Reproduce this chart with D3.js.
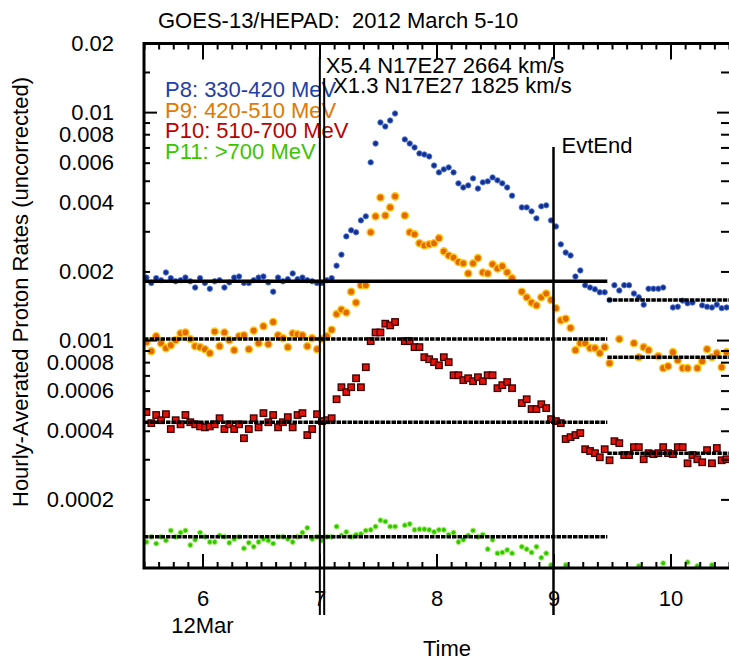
<!DOCTYPE html>
<html>
<head>
<meta charset="utf-8">
<script src="https://cdn.jsdelivr.net/npm/d3@7"></script>
<style>
  body { margin: 0; background: #fff; }
  svg { display: block; font-family: "Liberation Sans", Arial, sans-serif; }
</style>
</head>
<body>
<div id="chart"></div>
<script>
// hourly averages, first value is 2012-03-05 12:00-13:00 UT (null = no point)
const startDay = 5.5

const p8 = [
  0.00188, 0.00178, 0.00187, 0.00183, 0.00198, 0.00187, 0.00181, 0.00183, 0.00188, 0.00181, 0.00170, 0.00187,
  0.00178, 0.00168, 0.00181, 0.00183, 0.00170, 0.00179, 0.00188, 0.00190, 0.00178, 0.00178, 0.00183, 0.00188,
  0.00190, 0.00179, 0.00163, 0.00188, 0.00181, 0.00185, 0.00196, 0.00185, 0.00188, 0.00183, 0.00181, 0.00178,
  0.00178, 0.00183, 0.00187, 0.00212, 0.00237, 0.00285, 0.00303, 0.00297, 0.00335, 0.00349, 0.00602, 0.00728,
  0.00901, 0.00865, 0.00919, 0.00986, null, 0.00759, 0.00728, 0.00700, 0.00659, 0.00652, 0.00639, 0.00583,
  0.00544, 0.00561, 0.00572, 0.00544, 0.00487, 0.00467, 0.00477, 0.00512, 0.00462, 0.00492, 0.00497, 0.00517,
  0.00502, 0.00487, 0.00467, 0.00430, null, 0.00382, 0.00382, 0.00367, 0.00342, 0.00386, 0.00390, 0.00335,
  0.00315, 0.00263, 0.00242, 0.00235, 0.00190, 0.00202, 0.00174, 0.00170, 0.00167, 0.00162, 0.00162, 0.00150,
  0.00174, 0.00165, 0.00174, 0.00174, 0.00160, 0.00154, 0.00143, 0.00168, 0.00168, 0.00168, 0.00170, null,
  0.00139, 0.00140, 0.00149, 0.00145, 0.00146, null, 0.00142, 0.00140, 0.00139, 0.00143, 0.00138, 0.00139
]

const p9 = [
  0.000979, 0.000894, 0.00104, 0.000969, 0.000922, 0.000949, 0.000999, 0.00107, 0.00108, 0.00101, 0.000940, 0.000931,
  0.000912, 0.000876, 0.00109, 0.000940, 0.00108, 0.000999, 0.000903, 0.00104, 0.00105, 0.000912, 0.00110, 0.000969,
  0.00115, 0.000959, 0.00120, 0.00105, 0.00102, 0.000931, 0.00107, 0.00106, 0.00105, 0.000940, 0.00102, 0.000912,
  0.00101, 0.00104, 0.00111, 0.00130, 0.00136, 0.00132, 0.00163, 0.00146, 0.00174, 0.00174, 0.00297, 0.00349,
  0.00422, 0.00352, 0.00382, 0.00427, null, 0.00352, 0.00297, 0.00291, 0.00266, 0.00260, 0.00263, 0.00266,
  0.00280, 0.00245, 0.00235, 0.00230, 0.00220, 0.00217, 0.00196, 0.00217, 0.00229, 0.00198, 0.00196, 0.00215,
  0.00206, 0.00211, 0.00198, 0.00187, null, 0.00163, 0.00154, 0.00146, 0.00142, 0.00154, 0.00160, 0.00150,
  0.00138, 0.00122, 0.00124, 0.00113, 0.000903, 0.000969, 0.000969, 0.000922, 0.000922, 0.000876, 0.000931, 0.000792,
  null, 0.00101, null, null, 0.000969, 0.000841, 0.000931, 0.000903, null, 0.000850, 0.000753, 0.000768,
  0.000885, 0.000816, 0.000753, 0.000753, null, 0.000753, 0.000808, 0.000912, 0.000841, 0.000876, 0.000760, 0.000885
]

const p10 = [
  0.000483, 0.000432, 0.000469, 0.000445, 0.000473, 0.000407, 0.000445, 0.000427, 0.000469, 0.000436, 0.000427, 0.000418,
  0.000414, 0.000418, 0.000427, 0.000454, 0.000407, 0.000427, 0.000407, 0.000427, 0.000371, 0.000407, 0.000454, 0.000414,
  0.000478, 0.000436, 0.000469, 0.000414, 0.000436, 0.000459, 0.000414, 0.000469, 0.000478, 0.000383, 0.000407, 0.000473,
  0.000441, 0.000445, 0.000454, 0.000550, 0.000621, 0.000591, 0.000621, 0.000680, 0.000621, 0.000760, 0.000989, 0.00108,
  0.00108, 0.00118, 0.00116, 0.00120, null, 0.000989, 0.000989, 0.000931, 0.000931, 0.000841, 0.000824, 0.000800,
  0.000775, 0.000841, 0.000800, 0.000701, 0.000701, 0.000667, 0.000680, 0.000660, 0.000687, 0.000660, 0.000701, 0.000701,
  0.000615, 0.000634, 0.000654, 0.000615, null, 0.000529, 0.000550, 0.000498, 0.000498, 0.000523, 0.000503, 0.000450,
  0.000441, 0.000432, 0.000368, 0.000375, 0.000383, 0.000391, 0.000332, 0.000326, 0.000319, 0.000306, 0.000332, 0.000297,
  0.000360, 0.000353, 0.000313, 0.000313, 0.000339, 0.000339, 0.000300, 0.000319, 0.000316, 0.000319, 0.000339, 0.000319,
  0.000316, 0.000339, 0.000339, 0.000288, 0.000313, 0.000300, 0.000291, 0.000329, 0.000288, 0.000336, 0.000297, 0.000300
]

const p11 = [
  0.000130, 0.000137, 0.000128, 0.000137, 0.000132, 0.000146, 0.000137, 0.000143, 0.000146, 0.000126, 0.000133, 0.000143,
  0.000137, 0.000130, 0.000130, 0.000139, 0.000137, 0.000129, 0.000134, 0.000137, 0.000122, 0.000129, 0.000124, 0.000130,
  0.000134, 0.000132, 0.000128, 0.000137, 0.000137, 0.000134, 0.000130, 0.000137, 0.000143, 0.000150, 0.000134, 0.000137,
  0.000132, 0.000137, 0.000137, 0.000152, 0.000139, 0.000144, 0.000137, 0.000140, 0.000141, 0.000146, 0.000147, 0.000152,
  0.000162, 0.000160, 0.000152, 0.000152, null, 0.000154, 0.000156, 0.000147, 0.000148, 0.000148, 0.000147, 0.000144,
  0.000147, 0.000147, 0.000140, 0.000143, 0.000130, 0.000133, 0.000139, 0.000146, 0.000137, 0.000140, 0.000121, 0.000133,
  0.000116, 0.000117, 0.000120, 0.000116, null, 0.000124, 0.000121, 0.000117, 0.000124, 0.000111, 0.000116, 0.000103,
  null, null, 0.000103, null, null, null, null, null, null, null, null, null,
  null, null, null, null, null, 0.000102, null, null, null, null, 0.000105, null,
  null, null, null, 0.000106, null, 0.000102, null, null, 0.000103, null, null, null
]

// background levels: [before switch, after switch]
const bkgSwitch = 9.46
const bkgP8 = [0.00181, 0.00150]
const bkgP9 = [0.00101, 0.000841]
const bkgP10 = [0.000436, 0.000319]
const bkgP11 = [0.000137, null]

const seriesLabels = ["P8: 330-420 MeV", "P9: 420-510 MeV", "P10: 510-700 MeV", "P11: >700 MeV"]
const flareTimes = [7.003, 7.04]
const flareLabels = ["X5.4 N17E27 2664 km/s", "X1.3 N17E27 1825 km/s"]
const evtEndTime = 9.0

const dayTicks = [6, 7, 8, 9, 10]
const yLabelTicks = [0.02, 0.01, 0.008, 0.006, 0.004, 0.002, 0.001, 0.0008, 0.0006, 0.0004, 0.0002]
const yMajorTicks = [0.01, 0.001]
const yMinorTicks = [0.015, 0.009, 0.008, 0.007, 0.006, 0.005, 0.004, 0.003, 0.002,
                     0.0009, 0.0008, 0.0007, 0.0006, 0.0005, 0.0004, 0.0003, 0.0002]

const dimensions = { width: 729, height: 661, left: 144, right: 729, top: 43.5, bottom: 568 }

const svg = d3.select("#chart").append("svg")
    .attr("width", dimensions.width)
    .attr("height", dimensions.height)
    .style("font-size", "22px")

const xScale = d3.scaleLinear().domain([5.5, 10.5]).range([dimensions.left, dimensions.right])
const yScale = d3.scaleLog().domain([1e-4, 0.02]).range([dimensions.bottom, dimensions.top])

const hourTime = i => startDay + (i + 0.5) / 24

svg.append("clipPath").attr("id", "plotclip")
  .append("rect")
    .attr("x", dimensions.left).attr("y", dimensions.top)
    .attr("width", dimensions.right - dimensions.left)
    .attr("height", dimensions.bottom - dimensions.top)

// series styles
const series = [
  { values: p8,  bkg: bkgP8,  shape: "circle", size: 2.7, fill: "#14308f", stroke: "#4f77d8", sw: 0.9, text: "#1f40a6" },
  { values: p9,  bkg: bkgP9,  shape: "circle", size: 3.6, fill: "#e26a00", stroke: "#ffc81e", sw: 1.4, text: "#e27800" },
  { values: p10, bkg: bkgP10, shape: "square", size: 6.5, fill: "#e3130c", stroke: "#3a0000", sw: 1.3, text: "#bb0000" },
  { values: p11, bkg: bkgP11, shape: "circle", size: 2.5, fill: "#2fc800", stroke: "#a6ee6c", sw: 1, text: "#3cc400" }
]

const plot = svg.append("g").attr("clip-path", "url(#plotclip)")

series.forEach(s => {
  const pts = s.values.map((v, i) => ({ t: hourTime(i), v })).filter(d => d.v != null)
  const g = plot.append("g")
  if (s.shape === "circle") {
    g.selectAll("circle").data(pts).join("circle")
      .attr("cx", d => xScale(d.t))
      .attr("cy", d => yScale(d.v))
      .attr("r", s.size)
      .attr("fill", s.fill)
      .attr("stroke", s.stroke)
      .attr("stroke-width", s.sw)
  } else {
    g.selectAll("rect").data(pts).join("rect")
      .attr("x", d => xScale(d.t) - s.size / 2)
      .attr("y", d => yScale(d.v) - s.size / 2)
      .attr("width", s.size)
      .attr("height", s.size)
      .attr("fill", s.fill)
      .attr("stroke", s.stroke)
      .attr("stroke-width", s.sw)
  }
})

// background levels
series.forEach((s, k) => {
  const spans = [[5.5, bkgSwitch, s.bkg[0]], [bkgSwitch, 10.5, s.bkg[1]]]
  spans.filter(d => d[2] != null).forEach((d, j) => {
    const solid = k === 0 && j === 0
    plot.append("line")
      .attr("x1", xScale(d[0])).attr("x2", xScale(d[1]))
      .attr("y1", yScale(d[2])).attr("y2", yScale(d[2]))
      .attr("stroke", "#000")
      .attr("stroke-width", solid ? 3.5 : 3.5)
      .attr("stroke-dasharray", solid ? null : "4.5,1")
  })
})

// frame (right side falls off the canvas)
svg.append("path")
    .attr("d", `M${dimensions.right},${dimensions.top}H${dimensions.left}V${dimensions.bottom}H${dimensions.right}`)
    .attr("fill", "none").attr("stroke", "#000").attr("stroke-width", 3)

// x ticks, pointing inward on bottom and top
const xMinor = d3.range(5.5, 10.5001, 0.125).filter(d => !dayTicks.includes(d))
const tickStyle = g => {
  g.select(".domain").remove()
  g.selectAll(".tick line").attr("stroke", "#000").attr("stroke-width", 2)
}
svg.append("g").attr("transform", `translate(0,${dimensions.bottom})`)
    .call(d3.axisBottom(xScale).tickValues(xMinor).tickSize(-6).tickFormat(""))
    .call(tickStyle)
svg.append("g").attr("transform", `translate(0,${dimensions.bottom})`)
    .call(d3.axisBottom(xScale).tickValues(dayTicks).tickSize(-14).tickFormat(""))
    .call(tickStyle)
svg.append("g").attr("transform", `translate(0,${dimensions.top})`)
    .call(d3.axisTop(xScale).tickValues(xMinor).tickSize(-6).tickFormat(""))
    .call(tickStyle)
svg.append("g").attr("transform", `translate(0,${dimensions.top})`)
    .call(d3.axisTop(xScale).tickValues(dayTicks).tickSize(-16).tickFormat(""))
    .call(tickStyle)

// x labels
svg.append("g").attr("transform", `translate(0,${dimensions.bottom})`)
    .call(d3.axisBottom(xScale).tickValues(dayTicks).tickSize(0).tickPadding(22).tickFormat(d => d))
    .call(g => g.select(".domain").remove())
    .call(g => g.selectAll("text").attr("fill", "#000").style("font-size", "22px").style("font-family", "Liberation Sans, Arial, sans-serif"))

svg.append("text")
    .attr("x", xScale(6)).attr("y", 633)
    .attr("text-anchor", "middle")
    .text("12Mar")

svg.append("text")
    .attr("x", 447).attr("y", 656)
    .attr("text-anchor", "middle")
    .text("Time")

// y ticks, left and right, pointing inward
svg.append("g").attr("transform", `translate(${dimensions.left},0)`)
    .call(d3.axisRight(yScale).tickValues(yMinorTicks).tickSize(6).tickFormat(""))
    .call(tickStyle)
svg.append("g").attr("transform", `translate(${dimensions.left},0)`)
    .call(d3.axisRight(yScale).tickValues(yMajorTicks).tickSize(13).tickFormat(""))
    .call(tickStyle)
svg.append("g").attr("transform", `translate(${dimensions.right},0)`)
    .call(d3.axisLeft(yScale).tickValues(yMinorTicks).tickSize(8).tickFormat(""))
    .call(tickStyle)
svg.append("g").attr("transform", `translate(${dimensions.right},0)`)
    .call(d3.axisLeft(yScale).tickValues(yMajorTicks).tickSize(12).tickFormat(""))
    .call(tickStyle)

svg.append("g").attr("transform", `translate(${dimensions.left},0)`)
    .call(d3.axisLeft(yScale).tickValues(yLabelTicks).tickSize(0).tickPadding(30).tickFormat(d => String(d)))
    .call(g => g.select(".domain").remove())
    .call(g => g.selectAll("text").attr("fill", "#000").style("font-size", "22px").style("font-family", "Liberation Sans, Arial, sans-serif"))

svg.append("text")
    .attr("transform", "translate(28,292) rotate(-90)")
    .attr("text-anchor", "middle")
    .text("Hourly-Averated Proton Rates (uncorrected)")

// title
svg.append("text")
    .attr("x", 158).attr("y", 28)
    .style("white-space", "pre")
    .text("GOES-13/HEPAD:  2012 March 5-10")

// legend
seriesLabels.forEach((label, i) => {
  svg.append("text")
      .attr("x", 165).attr("y", 97 + i * 20.5)
      .attr("fill", series[i].text)
      .text(label)
})

// flare and event-end markers
const flareTops = [57, 78]
flareTimes.forEach((t, i) => {
  svg.append("line")
      .attr("x1", xScale(t)).attr("x2", xScale(t))
      .attr("y1", flareTops[i]).attr("y2", 615)
      .attr("stroke", "#000").attr("stroke-width", 2)
  svg.append("text")
      .attr("x", xScale(t) + 6 + i * 3).attr("y", 73 + i * 20)
      .text(flareLabels[i])
})

svg.append("line")
    .attr("x1", xScale(evtEndTime)).attr("x2", xScale(evtEndTime))
    .attr("y1", 147).attr("y2", 615)
    .attr("stroke", "#000").attr("stroke-width", 2.5)
svg.append("text")
    .attr("x", xScale(evtEndTime) + 8).attr("y", 153)
    .attr("dy", 0)
    .text("EvtEnd")
</script>
</body>
</html>
